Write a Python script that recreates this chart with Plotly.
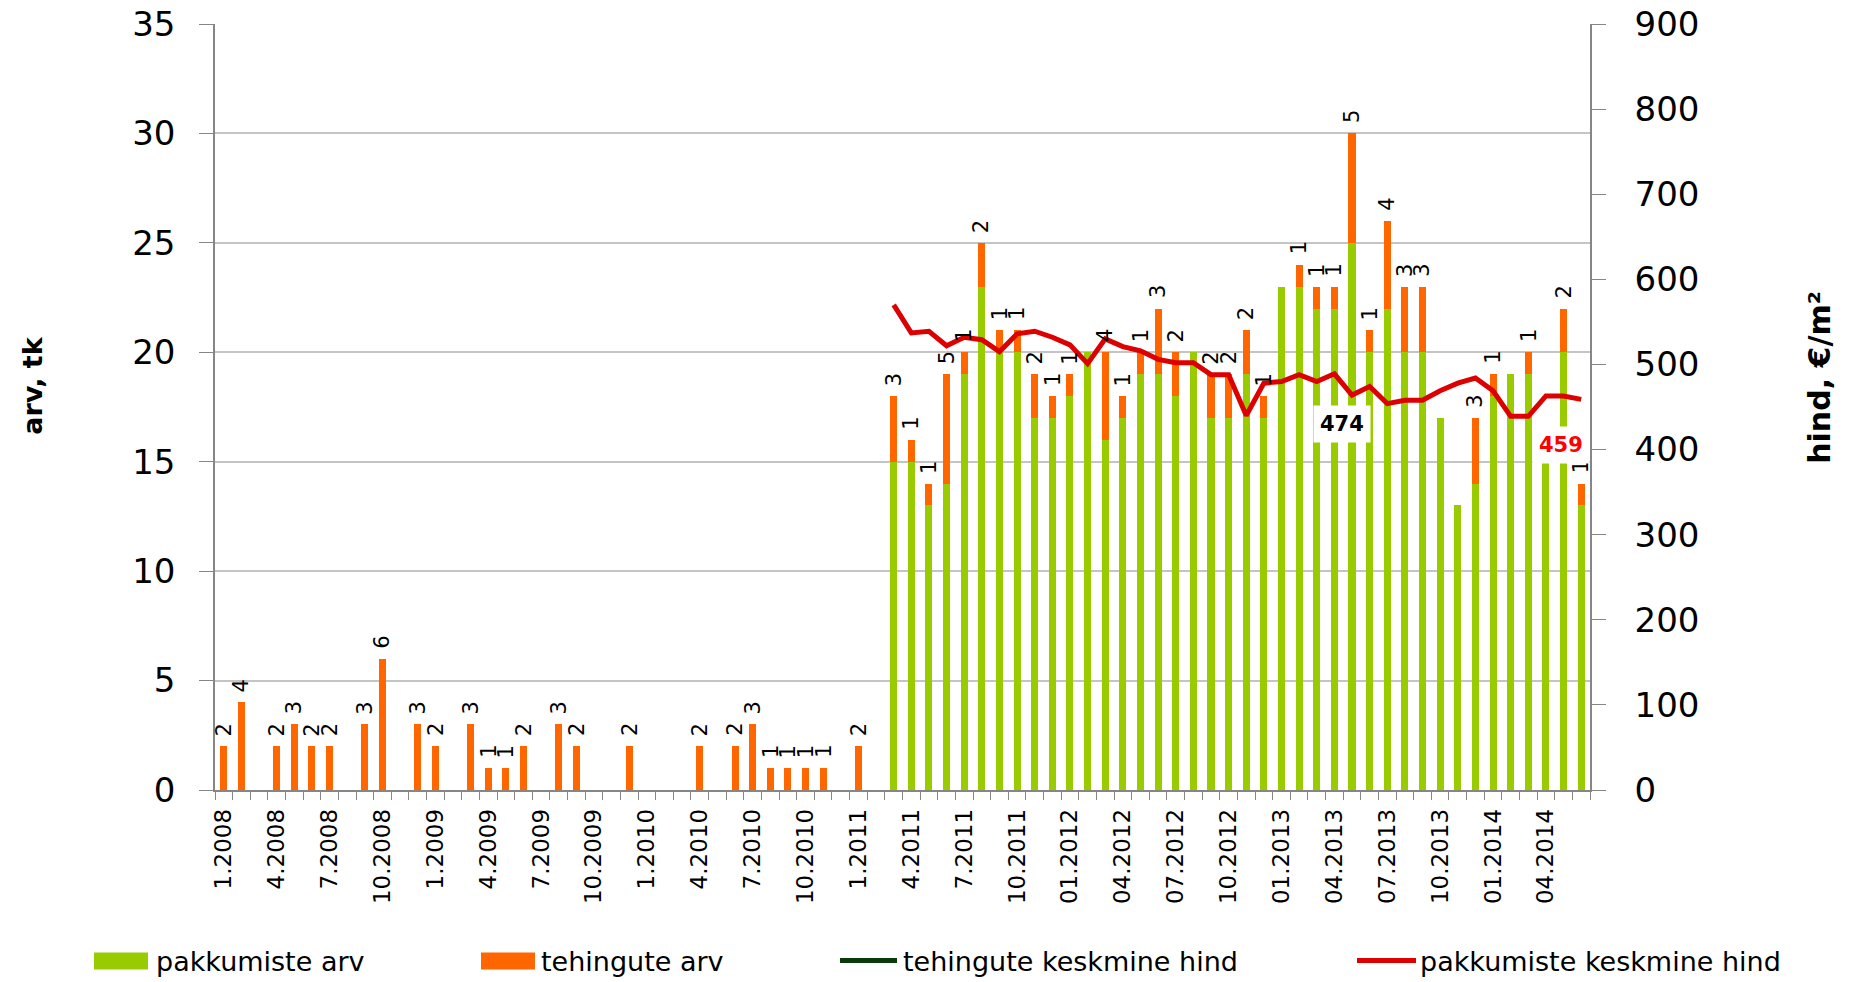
import plotly.graph_objects as go

# Monthly categories 1.2008 ... 6.2014 (78 months), labelled every quarter
tick_labels = [
    "1.2008", "4.2008", "7.2008", "10.2008",
    "1.2009", "4.2009", "7.2009", "10.2009",
    "1.2010", "4.2010", "7.2010", "10.2010",
    "1.2011", "4.2011", "7.2011", "10.2011",
    "01.2012", "04.2012", "07.2012", "10.2012",
    "01.2013", "04.2013", "07.2013", "10.2013",
    "01.2014", "04.2014",
]
n_months = 78

# pakkumiste arv (offers count), from 3.2011
pakkumiste_arv = [None] * 38 + [
    15, 15, 13, 14, 19, 23, 20, 20, 17, 17,
    18, 20, 16, 17, 19, 19, 18, 20, 17, 17,
    19, 17, 23, 23, 22, 22, 25, 20, 22, 20,
    20, 17, 13, 14, 18, 19, 19, 16, 20, 13,
]

# tehingute arv (transactions count)
tehingute_arv = [
    2, 4, None, 2, 3, 2, 2, None, 3, 6,
    None, 3, 2, None, 3, 1, 1, 2, None, 3,
    2, None, None, 2, None, None, None, 2, None, 2,
    3, 1, 1, 1, 1, None, 2, None,
    3, 1, 1, 5, 1, 2, 1, 1, 2, 1,
    1, 0, 4, 1, 1, 3, 2, 0, 2, 2,
    2, 1, 0, 1, 1, 1, 5, 1, 4, 3,
    3, 0, 0, 3, 1, 0, 1, 0, 2, 1,
]

# pakkumiste keskmine hind (average asking price, EUR/m2)
pakkumiste_hind = [None] * 38 + [
    570, 537, 539, 522, 532, 529, 515, 536, 539, 532,
    523, 501, 530, 521, 516, 506, 502, 502, 488, 488,
    440, 478, 480, 488, 480, 489, 464, 474, 454, 458,
    458, 469, 478, 484, 469, 439, 439, 463, 463, 459,
]

# tehingute keskmine hind (average transaction price) - no values in this period
tehingute_hind = []

GREEN = "#99CC00"
ORANGE = "#FF6600"
RED = "#DD0000"
DARKGREEN = "#0A3A0A"
AXIS = "#868686"
GRID = "#C4C4C4"
FONT = "DejaVu Sans"

x = list(range(n_months))
tick_vals = list(range(0, n_months, 3))[: len(tick_labels)]

# plot-area geometry in pixels
L, R, T, B = 215, 1590, 24, 790.5
W, H = 1850, 982


def px(xp):
    return (xp - L) / (R - L)


def py(yp):
    return (B - yp) / (B - T)


fig = go.Figure()

fig.add_trace(go.Bar(
    x=x, y=pakkumiste_arv, name="pakkumiste arv",
    marker=dict(color=GREEN, line=dict(width=0)), width=0.4,
))

fig.add_trace(go.Bar(
    x=x, y=tehingute_arv, name="tehingute arv",
    marker=dict(color=ORANGE, line=dict(width=0)), width=0.4,
))

fig.add_trace(go.Scatter(
    x=x[: len(tehingute_hind)], y=tehingute_hind, name="tehingute keskmine hind",
    mode="lines", line=dict(color=DARKGREEN, width=5), yaxis="y2",
))

fig.add_trace(go.Scatter(
    x=x, y=pakkumiste_hind, name="pakkumiste keskmine hind",
    mode="lines", line=dict(color=RED, width=5), yaxis="y2",
))

annotations = []

# transaction counts written above each stacked bar
for i, (g, o) in enumerate(zip(pakkumiste_arv, tehingute_arv)):
    if not o:
        continue
    top = (g or 0) + o
    annotations.append(dict(
        x=i, y=top, xref="x", yref="y", text=str(o), textangle=-90,
        showarrow=False, xanchor="center", yanchor="bottom", yshift=8,
        font=dict(family=FONT, size=21, color="#000000"),
    ))

# value callouts on the price line
for idx, color, dx, dy in [(65, "#000000", -28, -37), (n_months - 1, "#FF0000", -20, -46)]:
    annotations.append(dict(
        x=idx, y=pakkumiste_hind[idx], xref="x", yref="y2",
        text="<b>%d</b>" % pakkumiste_hind[idx], showarrow=False,
        xshift=dx, yshift=dy, bgcolor="#FFFFFF", borderpad=6,
        font=dict(family=FONT, size=21, color=color),
    ))

# axis titles
annotations.append(dict(
    x=px(33), y=py(386), xref="paper", yref="paper", text="<b>arv, tk</b>",
    textangle=-90, showarrow=False, xanchor="center", yanchor="middle",
    font=dict(family=FONT, size=27, color="#000000"),
))
annotations.append(dict(
    x=px(1820), y=py(378), xref="paper", yref="paper", text="<b>hind, €/m²</b>",
    textangle=-90, showarrow=False, xanchor="center", yanchor="middle",
    font=dict(family=FONT, size=30, color="#000000"),
))

# legend row along the bottom
shapes = []
legend_y = 962
legend_items = [
    ("rect", GREEN, 94, 148, "pakkumiste arv", 154),
    ("rect", ORANGE, 481, 535, "tehingute arv", 539),
    ("line", DARKGREEN, 840, 897, "tehingute keskmine hind", 901),
    ("line", RED, 1357, 1416, "pakkumiste keskmine hind", 1418),
]
for kind, color, x0, x1, label, tx in legend_items:
    if kind == "rect":
        shapes.append(dict(
            type="rect", xref="paper", yref="paper",
            x0=px(x0), x1=px(x1), y0=py(legend_y + 8), y1=py(legend_y - 9),
            fillcolor=color, line=dict(width=0), layer="above",
        ))
    else:
        shapes.append(dict(
            type="line", xref="paper", yref="paper",
            x0=px(x0), x1=px(x1), y0=py(legend_y - 1), y1=py(legend_y - 1),
            line=dict(color=color, width=5), layer="above",
        ))
    annotations.append(dict(
        x=px(tx), y=py(legend_y), xref="paper", yref="paper", text=label,
        showarrow=False, xanchor="left", yanchor="middle",
        font=dict(family=FONT, size=27, color="#000000"),
    ))

fig.update_layout(
    width=W, height=H,
    margin=dict(l=L, r=W - R, t=T, b=H - B, pad=0, autoexpand=False),
    paper_bgcolor="#FFFFFF", plot_bgcolor="rgba(0,0,0,0)",
    barmode="stack", bargap=0, showlegend=False,
    font=dict(family=FONT, color="#000000"),
    xaxis=dict(
        range=[-0.5, n_months - 0.5], tickmode="array",
        tickvals=tick_vals, ticktext=tick_labels, tickangle=-90,
        ticks="", ticklabelstandoff=8, automargin=False,
        tickfont=dict(family=FONT, size=23, color="#000000"),
        showgrid=False, zeroline=False,
        showline=True, linecolor=AXIS, linewidth=1.5,
        minor=dict(ticks="outside", tick0=-0.5, dtick=1, ticklen=8,
                   tickcolor=AXIS, tickwidth=1, showgrid=False),
    ),
    yaxis=dict(
        range=[0, 35], dtick=5, tick0=0, automargin=False,
        ticks="outside", ticklen=14, tickcolor=AXIS, tickwidth=1,
        ticklabelstandoff=17,
        tickfont=dict(family=FONT, size=34, color="#000000"),
        showgrid=True, gridcolor=GRID, gridwidth=1.5, zeroline=False,
        showline=True, linecolor=AXIS, linewidth=1.5,
    ),
    yaxis2=dict(
        range=[0, 900], dtick=100, tick0=0, overlaying="y", side="right",
        automargin=False,
        ticks="outside", ticklen=14, tickcolor=AXIS, tickwidth=1,
        ticklabelstandoff=22,
        tickfont=dict(family=FONT, size=34, color="#000000"),
        showgrid=False, zeroline=False,
        showline=True, linecolor=AXIS, linewidth=1.5,
    ),
    annotations=annotations,
    shapes=shapes,
)

fig.write_html("out.html")
